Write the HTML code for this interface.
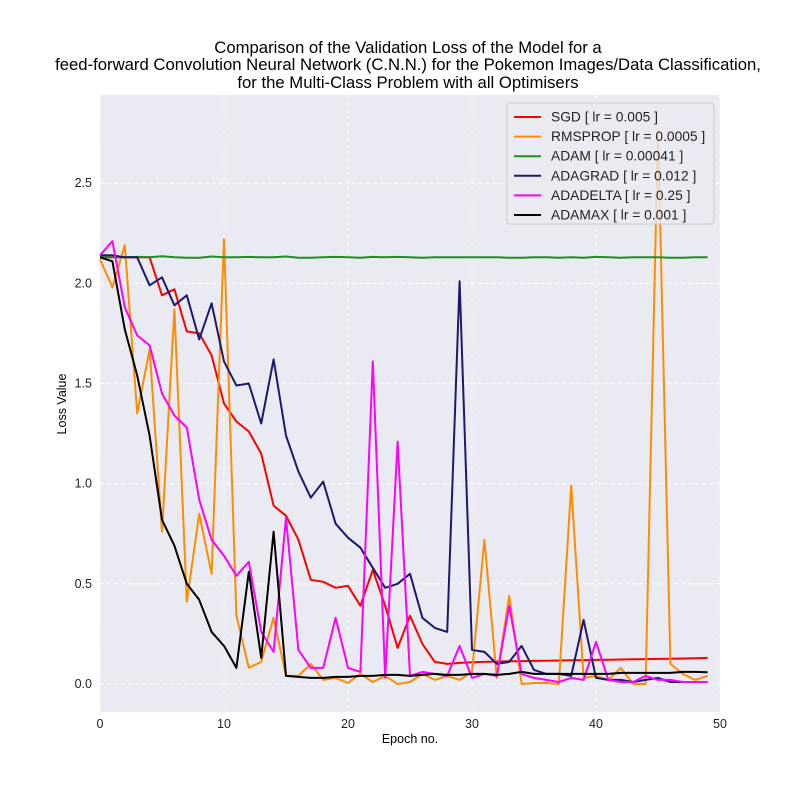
<!DOCTYPE html>
<html><head><meta charset="utf-8"><style>
body{margin:0;background:#fff;font-family:"Liberation Sans",sans-serif;}
</style></head><body>
<svg id="chart" width="800" height="800" xmlns="http://www.w3.org/2000/svg" font-family="Liberation Sans, sans-serif">
<rect width="800" height="800" fill="#fff"/>
<g font-size="16.7" text-anchor="middle" fill="#000">
<text x="408" y="53">Comparison of the Validation Loss of the Model for a</text>
<text x="408" y="70">feed-forward Convolution Neural Network (C.N.N.) for the Pokemon Images/Data Classification,</text>
<text x="408" y="88">for the Multi-Class Problem with all Optimisers</text>
</g>
<rect x="100" y="95" width="620" height="617" fill="#eaeaf2"/>
<g id="grid"></g>
<g id="series"></g>
<g id="ticks" font-size="12.5" fill="#222"></g>
<text x="410" y="743" font-size="12.5" text-anchor="middle">Epoch no.</text>
<text transform="translate(66,404) rotate(-90)" font-size="12.5" text-anchor="middle">Loss Value</text>
<g id="legend"></g>
</svg>
<script>
const epochs = Array.from({length:50},(_,i)=>i);
const seriesNames = ["SGD [ lr = 0.005 ]","RMSPROP [ lr = 0.0005 ]","ADAM [ lr = 0.00041 ]","ADAGRAD [ lr = 0.012 ]","ADADELTA [ lr = 0.25 ]","ADAMAX [ lr = 0.001 ]"];
const seriesColors = ["#ff0000","#ff8c00","#228b22","#191970","#ff00ff","#000000"];
const sgd = [2.13,2.13,2.13,2.13,2.13,1.94,1.97,1.76,1.75,1.64,1.40,1.31,1.26,1.15,0.89,0.84,0.72,0.52,0.51,0.48,0.49,0.39,0.57,0.39,0.18,0.34,0.20,0.11,0.10,0.105,0.108,0.11,0.112,0.113,0.114,0.115,0.116,0.117,0.118,0.119,0.12,0.121,0.122,0.123,0.124,0.125,0.126,0.127,0.128,0.13];
const rmsprop = [2.12,1.98,2.19,1.35,1.67,0.76,1.87,0.41,0.85,0.55,2.22,0.34,0.08,0.11,0.33,0.04,0.04,0.10,0.02,0.03,0.005,0.05,0.01,0.04,0.0,0.01,0.05,0.02,0.04,0.02,0.06,0.72,0.03,0.44,0.0,0.005,0.005,0.0,0.99,0.03,0.04,0.02,0.08,0.0,0.0,2.77,0.10,0.05,0.02,0.04];
const adam = [2.13,2.13,2.13,2.132,2.13,2.135,2.13,2.128,2.128,2.134,2.13,2.13,2.132,2.13,2.13,2.134,2.128,2.128,2.13,2.132,2.13,2.128,2.132,2.13,2.132,2.13,2.128,2.13,2.13,2.13,2.13,2.13,2.13,2.128,2.128,2.13,2.13,2.128,2.13,2.128,2.132,2.13,2.128,2.13,2.13,2.13,2.128,2.128,2.13,2.13];
const adagrad = [2.14,2.14,2.13,2.13,1.99,2.03,1.89,1.94,1.72,1.90,1.61,1.49,1.50,1.30,1.62,1.24,1.06,0.93,1.01,0.80,0.73,0.68,0.58,0.48,0.50,0.55,0.33,0.28,0.26,2.01,0.17,0.16,0.10,0.11,0.19,0.07,0.05,0.05,0.04,0.32,0.03,0.02,0.02,0.01,0.02,0.03,0.01,0.01,0.01,0.01];
const adadelta = [2.14,2.21,1.88,1.74,1.69,1.45,1.34,1.28,0.92,0.72,0.64,0.54,0.61,0.26,0.16,0.83,0.17,0.08,0.08,0.33,0.08,0.06,1.61,0.03,1.21,0.04,0.06,0.05,0.04,0.19,0.03,0.05,0.04,0.39,0.05,0.03,0.02,0.01,0.03,0.02,0.21,0.02,0.01,0.01,0.04,0.02,0.02,0.01,0.01,0.01];
const adamax = [2.13,2.11,1.77,1.54,1.24,0.82,0.69,0.50,0.42,0.26,0.19,0.08,0.56,0.13,0.76,0.04,0.035,0.03,0.03,0.035,0.035,0.04,0.04,0.045,0.045,0.04,0.045,0.05,0.045,0.045,0.05,0.05,0.045,0.05,0.06,0.05,0.05,0.05,0.05,0.05,0.05,0.05,0.055,0.055,0.055,0.055,0.055,0.06,0.06,0.058];
const allSeries = [sgd,rmsprop,adam,adagrad,adadelta,adamax];
const xTicks = [0,10,20,30,40,50];
const yTicks = [0.0,0.5,1.0,1.5,2.0,2.5];
const yTickLabels = ["0.0","0.5","1.0","1.5","2.0","2.5"];

const X0=100,X1=720,Y0=712,Y1=95, xmin=0,xmax=50,ymin=-0.14,ymax=2.94;
const sx=v=>X0+(v-xmin)/(xmax-xmin)*(X1-X0);
const sy=v=>Y0-(v-ymin)/(ymax-ymin)*(Y0-Y1);
const NS="http://www.w3.org/2000/svg";
function mk(tag,attrs,parent){const e=document.createElementNS(NS,tag);for(const k in attrs)e.setAttribute(k,attrs[k]);parent.appendChild(e);return e;}
const grid=document.getElementById('grid'),ticks=document.getElementById('ticks');
xTicks.forEach(t=>{
  const l=mk('line',{x1:sx(t),x2:sx(t),y1:Y1,y2:Y0,stroke:'#fff','stroke-dasharray':'4,3','stroke-width':1},grid);
  
  
  const tx=mk('text',{x:sx(t),y:Y0+16,'text-anchor':'middle'},ticks);
  tx.textContent=t;
  
  
});
yTicks.forEach((t,i)=>{
  const l=mk('line',{x1:X0,x2:X1,y1:sy(t),y2:sy(t),stroke:'#fff','stroke-dasharray':'4,3','stroke-width':1},grid);
  
  
  const tx=mk('text',{x:X0-8,y:sy(t)+4,'text-anchor':'end'},ticks);
  tx.textContent=yTickLabels[i];
  
  
});
const sg=document.getElementById('series');
allSeries.forEach((s,k)=>{
  const pts=s.map((v,i)=>sx(epochs[i]).toFixed(1)+','+sy(v).toFixed(1)).join(' ');
  const p=mk('polyline',{points:pts,fill:'none',stroke:seriesColors[k],'stroke-width':2,'stroke-linejoin':'round'},sg);
  
  
});
const lg=document.getElementById('legend');
const box=mk('rect',{x:507,y:103,width:207,height:121,fill:'#eaeaf2','fill-opacity':0.8,stroke:'#ccc',rx:3},lg);


seriesNames.forEach((n,k)=>{
  const y=117+k*19.6;
  const l=mk('line',{x1:514,x2:541,y1:y,y2:y,stroke:seriesColors[k],'stroke-width':2},lg);
  
  
  const t=mk('text',{x:551,y:y+4.5,'font-size':13.8,fill:'#222'},lg);
  t.textContent=n;
  
  
});
</script>
</body></html>
